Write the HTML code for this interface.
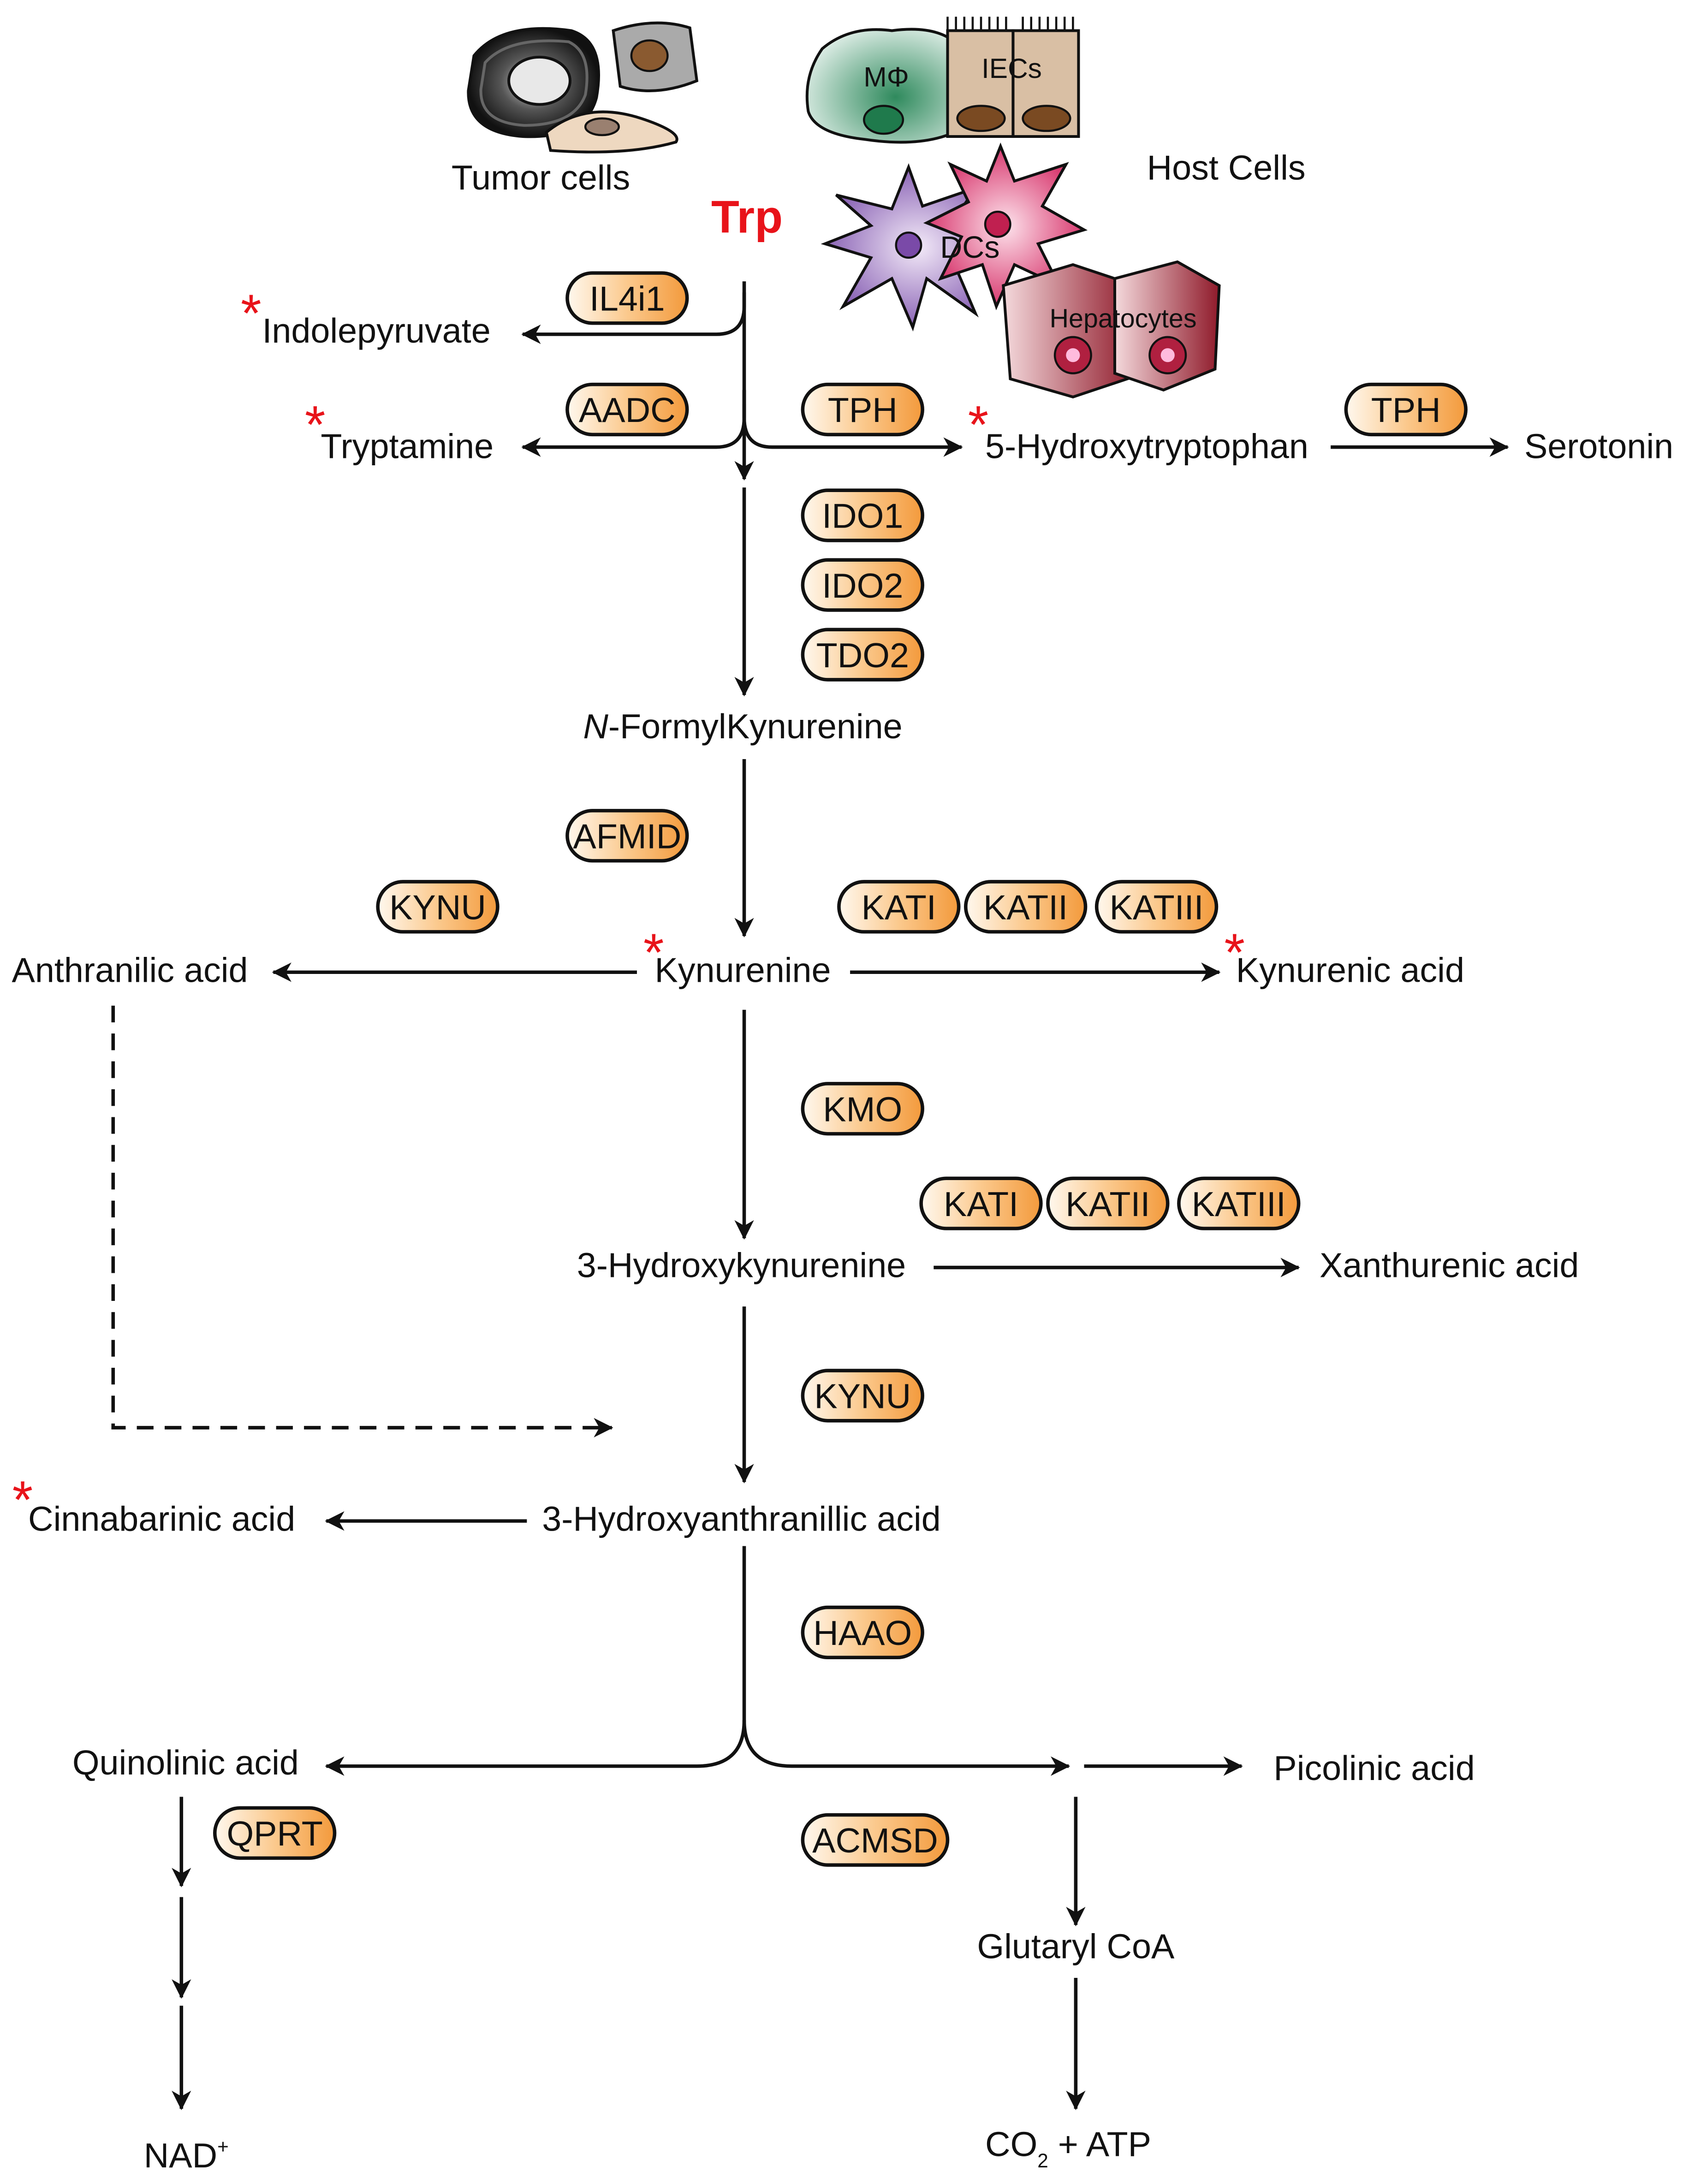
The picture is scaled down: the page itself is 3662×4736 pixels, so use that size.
<!DOCTYPE html>
<html><head><meta charset="utf-8"><style>
html,body{margin:0;padding:0;background:#fff}
svg{display:block}
text{font-family:"Liberation Sans",Arial,sans-serif;fill:#111}
</style></head><body>
<svg width="3662" height="4736" viewBox="0 0 1212 1568" xmlns="http://www.w3.org/2000/svg">
<defs>
<linearGradient id="pg" x1="0" x2="1" y1="0" y2="0"><stop offset="0" stop-color="#fff8ee"/><stop offset="0.5" stop-color="#fbc98d"/><stop offset="1" stop-color="#f39a3c"/></linearGradient>
<marker id="ah" markerWidth="14" markerHeight="14" refX="13" refY="7" orient="auto" markerUnits="userSpaceOnUse"><path d="M0,0 L14,7 L0,14 L4,7 Z" fill="#111"/></marker>
<radialGradient id="tum" cx="0.5" cy="0.5" r="0.5"><stop offset="0" stop-color="#ddd"/><stop offset="0.5" stop-color="#555"/><stop offset="1" stop-color="#111"/></radialGradient>
<radialGradient id="grn" cx="0.6" cy="0.6" r="0.7"><stop offset="0" stop-color="#2f8a5d"/><stop offset="1" stop-color="#e8f3ee"/></radialGradient>
<radialGradient id="pur" cx="0.5" cy="0.5" r="0.5"><stop offset="0" stop-color="#f3eaf8"/><stop offset="1" stop-color="#8a63b5"/></radialGradient>
<radialGradient id="pnk" cx="0.5" cy="0.5" r="0.5"><stop offset="0" stop-color="#fde3ec"/><stop offset="1" stop-color="#d8396f"/></radialGradient>
<linearGradient id="hep" x1="0" x2="1"><stop offset="0" stop-color="#f4d9dc"/><stop offset="1" stop-color="#8f1a2a"/></linearGradient>
</defs>

<!-- Tumor cells -->
<path d="M340,40 Q360,15 410,22 Q435,30 428,70 Q420,100 375,98 Q335,95 336,65 Z" fill="url(#tum)" stroke="#111" stroke-width="2"/>
<path d="M348,45 Q365,26 408,30 Q425,38 420,68 Q412,90 376,90 Q344,88 345,64 Z" fill="none" stroke="#666" stroke-width="2"/>
<ellipse cx="387" cy="58" rx="22" ry="17" fill="#e8e8e8" stroke="#111" stroke-width="2"/>
<path d="M440,22 Q470,12 495,20 L500,58 Q470,70 445,62 Z" fill="#aaa" stroke="#111" stroke-width="2"/>
<ellipse cx="466" cy="40" rx="13" ry="11" fill="#8a5a30" stroke="#111" stroke-width="1.5"/>
<path d="M392,95 Q420,72 460,85 Q490,95 485,102 Q450,112 395,108 Z" fill="#eed8c0" stroke="#111" stroke-width="2"/>
<ellipse cx="432" cy="91" rx="12" ry="6" fill="#9a8070" stroke="#111" stroke-width="1.5"/>
<text x="388" y="136" font-size="25" text-anchor="middle">Tumor cells</text>

<!-- Macrophage -->
<path d="M590,35 Q610,18 640,22 Q670,18 685,30 L685,95 Q660,106 620,100 Q585,96 580,80 Q576,55 590,35 Z" fill="url(#grn)" stroke="#111" stroke-width="2"/>
<ellipse cx="634" cy="86" rx="14" ry="10" fill="#1f7a4c" stroke="#111" stroke-width="1.5"/>
<text x="636" y="62" font-size="20" text-anchor="middle">MΦ</text>
<!-- IECs -->
<rect x="680" y="22" width="47" height="76" fill="#d9bfa4" stroke="#111" stroke-width="2"/>
<rect x="727" y="22" width="47" height="76" fill="#d9bfa4" stroke="#111" stroke-width="2"/>
<path d="M680,22 v-10 m6,10 v-10 m6,10 v-10 m6,10 v-10 m6,10 v-10 m6,10 v-10 m6,10 v-10 m6,10 v-10 m12,10 v-10 m6,10 v-10 m6,10 v-10 m6,10 v-10 m6,10 v-10 m6,10 v-10 m6,10 v-10" stroke="#111" stroke-width="1.5"/>
<ellipse cx="704" cy="85" rx="17" ry="9" fill="#7a4a22" stroke="#111" stroke-width="1.5"/>
<ellipse cx="751" cy="85" rx="17" ry="9" fill="#7a4a22" stroke="#111" stroke-width="1.5"/>
<text x="726" y="56" font-size="20" text-anchor="middle">IECs</text>
<!-- DCs -->
<path d="M652,120 L662,148 L700,135 L680,165 L725,178 L685,190 L700,225 L665,200 L655,235 L640,200 L605,220 L625,185 L592,175 L625,162 L600,140 L640,150 Z" fill="url(#pur)" stroke="#111" stroke-width="2"/>
<circle cx="652" cy="176" r="9" fill="#7a4aa8" stroke="#111" stroke-width="1.5"/>
<path d="M718,105 L728,130 L765,118 L748,148 L778,165 L745,175 L760,205 L728,190 L715,220 L705,190 L675,200 L690,170 L665,160 L695,145 L682,118 L708,130 Z" fill="url(#pnk)" stroke="#111" stroke-width="2"/>
<circle cx="716" cy="161" r="9" fill="#c02050" stroke="#111" stroke-width="1.5"/>
<text x="696" y="185" font-size="22" text-anchor="middle">DCs</text>
<!-- Hepatocytes -->
<path d="M720,205 L770,190 L815,205 L815,270 L770,285 L725,272 Z" fill="url(#hep)" stroke="#111" stroke-width="2"/>
<path d="M800,200 L845,188 L875,205 L872,265 L835,280 L800,268 Z" fill="url(#hep)" stroke="#111" stroke-width="2"/>
<circle cx="770" cy="255" r="13" fill="#b02040" stroke="#111" stroke-width="1.5"/><circle cx="770" cy="255" r="5" fill="#fbd"/>
<circle cx="838" cy="255" r="13" fill="#b02040" stroke="#111" stroke-width="1.5"/><circle cx="838" cy="255" r="5" fill="#fbd"/>
<text x="806" y="235" font-size="19" text-anchor="middle">Hepatocytes</text>
<text x="880" y="129" font-size="25" text-anchor="middle">Host Cells</text>

<text x="536" y="167" font-size="33" font-weight="bold" text-anchor="middle" style="fill:#e8131a">Trp</text>

<!-- connectors -->
<g stroke="#111" stroke-width="2.5" fill="none">
<path d="M534,202 V300"/>
<path d="M534,210 V220 Q534,240 514,240 H375" marker-end="url(#ah)"/>
<path d="M534,280 V300 Q534,321 514,321 H375" marker-end="url(#ah)"/>
<path d="M534,280 V300 Q534,321 554,321 H690" marker-end="url(#ah)"/>
<path d="M534,290 V344" marker-end="url(#ah)"/>
<path d="M955,321 H1082" marker-end="url(#ah)"/>
<path d="M534,350 V499" marker-end="url(#ah)"/>
<path d="M534,545 V672" marker-end="url(#ah)"/>
<path d="M457,698 H196" marker-end="url(#ah)"/>
<path d="M610,698 H875" marker-end="url(#ah)"/>
<path d="M534,725 V889" marker-end="url(#ah)"/>
<path d="M670,910 H932" marker-end="url(#ah)"/>
<path d="M81,722 V1025 H439" stroke-dasharray="12,8" marker-end="url(#ah)"/>
<path d="M534,938 V1064" marker-end="url(#ah)"/>
<path d="M378,1092 H234" marker-end="url(#ah)"/>
<path d="M534,1110 V1235 Q534,1268 500,1268 H234" marker-end="url(#ah)"/>
<path d="M534,1235 Q534,1268 568,1268 H767" marker-end="url(#ah)"/>
<path d="M778,1268 H891" marker-end="url(#ah)"/>
<path d="M130,1290 V1354" marker-end="url(#ah)"/>
<path d="M130,1362 V1434" marker-end="url(#ah)"/>
<path d="M130,1440 V1514" marker-end="url(#ah)"/>
<path d="M772,1290 V1382" marker-end="url(#ah)"/>
<path d="M772,1420 V1514" marker-end="url(#ah)"/>
</g>

<!-- pills -->
<g stroke="#111" stroke-width="2.5" fill="url(#pg)">
<rect x="407" y="196" width="86" height="36" rx="18"/>
<rect x="407" y="276" width="86" height="36" rx="18"/>
<rect x="576" y="276" width="86" height="36" rx="18"/>
<rect x="966" y="276" width="86" height="36" rx="18"/>
<rect x="576" y="352" width="86" height="36" rx="18"/>
<rect x="576" y="402" width="86" height="36" rx="18"/>
<rect x="576" y="452" width="86" height="36" rx="18"/>
<rect x="407" y="582" width="86" height="36" rx="18"/>
<rect x="271" y="633" width="86" height="36" rx="18"/>
<rect x="602" y="633" width="86" height="36" rx="18"/>
<rect x="693" y="633" width="86" height="36" rx="18"/>
<rect x="787" y="633" width="86" height="36" rx="18"/>
<rect x="576" y="778" width="86" height="36" rx="18"/>
<rect x="661" y="846" width="86" height="36" rx="18"/>
<rect x="752" y="846" width="86" height="36" rx="18"/>
<rect x="846" y="846" width="86" height="36" rx="18"/>
<rect x="576" y="984" width="86" height="36" rx="18"/>
<rect x="576" y="1154" width="86" height="36" rx="18"/>
<rect x="154" y="1298" width="86" height="36" rx="18"/>
<rect x="576" y="1303" width="104" height="36" rx="18"/>
</g>
<g font-size="25" text-anchor="middle">
<text x="450" y="223">IL4i1</text>
<text x="450" y="303">AADC</text>
<text x="619" y="303">TPH</text>
<text x="1009" y="303">TPH</text>
<text x="619" y="379">IDO1</text>
<text x="619" y="429">IDO2</text>
<text x="619" y="479">TDO2</text>
<text x="450" y="609">AFMID</text>
<text x="314" y="660">KYNU</text>
<text x="645" y="660">KATI</text>
<text x="736" y="660">KATII</text>
<text x="830" y="660">KATIII</text>
<text x="619" y="805">KMO</text>
<text x="704" y="873">KATI</text>
<text x="795" y="873">KATII</text>
<text x="889" y="873">KATIII</text>
<text x="619" y="1011">KYNU</text>
<text x="619" y="1181">HAAO</text>
<text x="197" y="1325">QPRT</text>
<text x="628" y="1330">ACMSD</text>
</g>

<!-- labels -->
<g font-size="25">
<text x="188" y="246">Indolepyruvate</text>
<text x="230" y="329">Tryptamine</text>
<text x="707" y="329">5-Hydroxytryptophan</text>
<text x="1094" y="329">Serotonin</text>
<text x="533" y="530" text-anchor="middle"><tspan font-style="italic">N</tspan>-FormylKynurenine</text>
<text x="93" y="705" text-anchor="middle">Anthranilic acid</text>
<text x="533" y="705" text-anchor="middle">Kynurenine</text>
<text x="887" y="705">Kynurenic acid</text>
<text x="532" y="917" text-anchor="middle">3-Hydroxykynurenine</text>
<text x="947" y="917">Xanthurenic acid</text>
<text x="20" y="1099">Cinnabarinic acid</text>
<text x="532" y="1099" text-anchor="middle">3-Hydroxyanthranillic acid</text>
<text x="133" y="1274" text-anchor="middle">Quinolinic acid</text>
<text x="914" y="1278">Picolinic acid</text>
<text x="772" y="1406" text-anchor="middle">Glutaryl CoA</text>
<text x="103" y="1556">NAD<tspan font-size="14" dy="-10">+</tspan></text>
<text x="707" y="1548">CO<tspan font-size="14" dy="8">2</tspan><tspan dy="-8"> + ATP</tspan></text>
</g>
<g font-size="38" text-anchor="middle">
<text x="180" y="238" style="fill:#e8131a">*</text>
<text x="226" y="318" style="fill:#e8131a">*</text>
<text x="702" y="318" style="fill:#e8131a">*</text>
<text x="469" y="697" style="fill:#e8131a">*</text>
<text x="886" y="697" style="fill:#e8131a">*</text>
<text x="16" y="1090" style="fill:#e8131a">*</text>
</g>
</svg>
</body></html>
